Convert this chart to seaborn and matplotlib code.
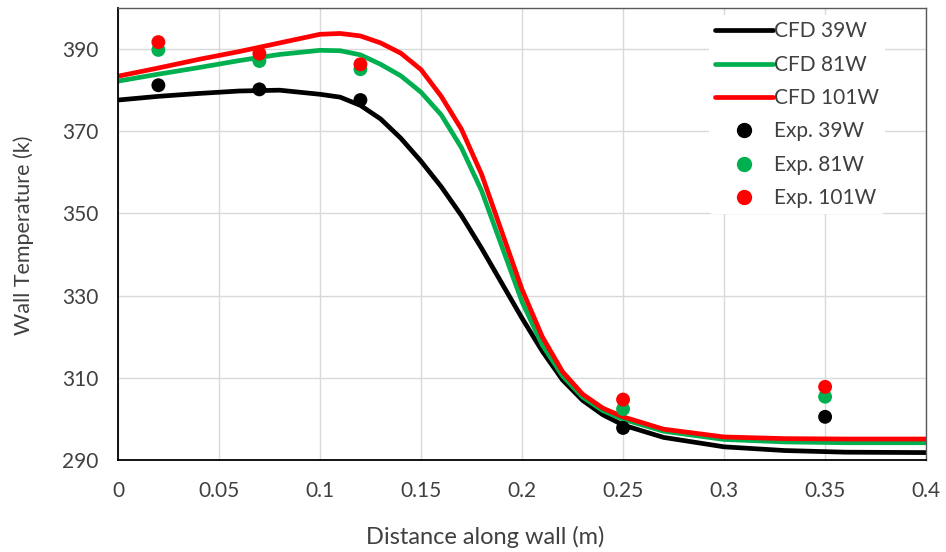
import numpy as np
import pandas as pd
import matplotlib
matplotlib.use("Agg")
import matplotlib.pyplot as plt
from matplotlib.lines import Line2D
import seaborn as sns

# ---- data ----
x_cfd = [0, 0.02, 0.04, 0.06, 0.08, 0.10, 0.11, 0.12, 0.13, 0.14, 0.15, 0.16,
         0.17, 0.18, 0.19, 0.20, 0.21, 0.22, 0.23, 0.24, 0.25, 0.27, 0.30,
         0.33, 0.36, 0.40]
cfd_39 = [377.6, 378.5, 379.2, 379.8, 380.0, 379.0, 378.3, 376.3, 373.0, 368.3,
          362.7, 356.5, 349.5, 341.5, 333.0, 324.5, 316.5, 309.5, 304.5, 301.0,
          298.5, 295.5, 293.2, 292.3, 291.9, 291.8]
cfd_81 = [382.2, 383.9, 385.5, 387.2, 388.7, 389.7, 389.6, 388.6, 386.3, 383.5,
          379.5, 374.0, 366.0, 355.5, 342.0, 328.5, 318.0, 310.5, 305.3, 302.0,
          299.9, 297.0, 295.0, 294.4, 294.2, 294.2]
cfd_101 = [383.4, 385.4, 387.5, 389.4, 391.5, 393.6, 393.8, 393.2, 391.5, 389.0,
           385.0, 378.5, 370.5, 359.5, 345.5, 331.5, 320.0, 311.5, 306.0, 302.6,
           300.5, 297.5, 295.6, 295.2, 295.1, 295.1]

x_exp = [0.02, 0.07, 0.12, 0.25, 0.35]
exp_39 = [381.2, 380.2, 377.6, 297.8, 300.5]
exp_81 = [389.8, 387.1, 385.1, 302.4, 305.4]
exp_101 = [391.7, 388.9, 386.3, 304.7, 307.8]

cfd_names = ["CFD 39W", "CFD 81W", "CFD 101W"]
exp_names = ["Exp. 39W", "Exp. 81W", "Exp. 101W"]
colors = ["#000000", "#00B050", "#FF0000"]

x_ticks = [0, 0.05, 0.1, 0.15, 0.2, 0.25, 0.3, 0.35, 0.4]
x_tick_labels = ["0", "0.05", "0.1", "0.15", "0.2", "0.25", "0.3", "0.35", "0.4"]
y_ticks = [290, 310, 330, 350, 370, 390]

cfd = pd.concat([
    pd.DataFrame({"x": x_cfd, "T": v, "series": n})
    for v, n in zip([cfd_39, cfd_81, cfd_101], cfd_names)
])
exp = pd.concat([
    pd.DataFrame({"x": x_exp, "T": v, "series": n})
    for v, n in zip([exp_39, exp_81, exp_101], exp_names)
])

sns.set_theme(style="white")
plt.rcParams["font.family"] = ["Lato", "DejaVu Sans"]
txt = "#404040"

fig = plt.figure(figsize=(9.46, 5.52), dpi=100)
ax = fig.add_axes([0.1247, 0.1667, 0.8543, 0.8188])

sns.lineplot(data=cfd, x="x", y="T", hue="series", hue_order=cfd_names,
             palette=colors, linewidth=3.4, sort=False, estimator=None,
             legend=False, ax=ax, zorder=2)
sns.scatterplot(data=exp, x="x", y="T", hue="series", hue_order=exp_names,
                palette=colors, s=100, linewidth=0, legend=False, ax=ax, zorder=3)

ax.set_xlim(0, 0.4)
ax.set_ylim(290, 400)
ax.set_xticks(x_ticks)
ax.set_xticklabels(x_tick_labels)
ax.set_yticks(y_ticks)
ax.grid(True, color="#d9d9d9", linewidth=1)
ax.set_axisbelow(True)
ax.tick_params(length=0, labelsize=15, colors=txt)
ax.tick_params(axis="y", pad=14)
ax.tick_params(axis="x", pad=15)
ax.set_xlabel("Distance along wall (m)", fontsize=17, color=txt)
ax.xaxis.set_label_coords(0.455, -0.145)
ax.set_ylabel("Wall Temperature (k)", fontsize=15.5, color=txt)
ax.yaxis.set_label_coords(-0.104, 0.498)

for s in ["left", "bottom"]:
    ax.spines[s].set_color("#000000")
    ax.spines[s].set_linewidth(1.3)
for s in ["top", "right"]:
    ax.spines[s].set_color("#595959")
    ax.spines[s].set_linewidth(1.0)

handles = [Line2D([], [], color=c, lw=3.4) for c in colors] + \
          [Line2D([], [], color=c, lw=0, marker="o", markersize=10) for c in colors]
labels = cfd_names + exp_names
leg = ax.legend(handles, labels, loc="upper left", bbox_to_anchor=(0.7314, 0.984),
                fontsize=15, frameon=True, facecolor="white", edgecolor="none",
                framealpha=1, handlelength=2.75, handletextpad=0.05,
                labelspacing=0.64, borderpad=0.3, borderaxespad=0)
for t in leg.get_texts():
    t.set_color(txt)

fig.savefig("out.png", dpi=100)
